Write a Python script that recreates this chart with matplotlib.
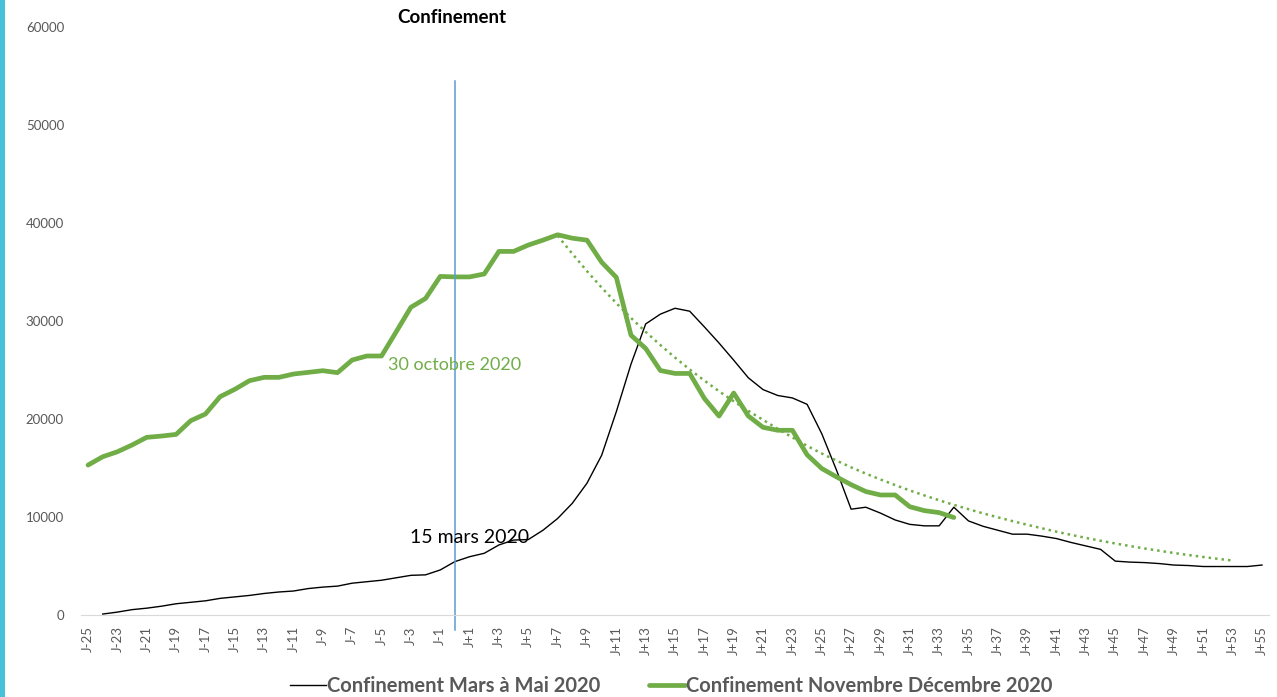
import matplotlib.pyplot as plt
import numpy as np
from matplotlib.patches import Rectangle

plt.rcParams['font.family'] = ['Lato', 'DejaVu Sans']

# jours autour du début du confinement (J-25 ... J+55)
jours = list(range(-25, 56))
etiquettes = ["J%+d" % j if j != 0 else "J" for j in jours]

# confinement mars à mai 2020 (pas de valeur à J-25)
mars_mai = [np.nan, 100, 300, 550, 700, 900, 1150, 1300, 1450, 1700,
            1850, 2000, 2200, 2350, 2450, 2700, 2850, 2950, 3250, 3400,
            3550, 3800, 4050, 4100, 4600, 5450, 5950, 6300, 7150, 7650,
            7700, 8650, 9850, 11400, 13450, 16300, 20750, 25600, 29700, 30700,
            31300, 31000, 29400, 27750, 26000, 24200, 23000, 22400, 22150, 21500,
            18500, 14800, 10800, 11000, 10400, 9700, 9250, 9100, 9100, 11000,
            9600, 9050, 8650, 8250, 8250, 8050, 7800, 7400, 7050, 6700,
            5500, 5400, 5350, 5250, 5100, 5050, 4950, 4950, 4950, 4950,
            5100]

# confinement novembre décembre 2020 (J-25 ... J+34)
nov_dec = [15300, 16150, 16660, 17350, 18130, 18260, 18430, 19830, 20510, 22280,
           23030, 23910, 24250, 24250, 24590, 24760, 24930, 24730, 26020, 26430,
           26430, 28900, 31400, 32300, 34550, 34500, 34500, 34800, 37100, 37100,
           37750, 38250, 38800, 38450, 38250, 36000, 34450, 28550, 27200, 24950,
           24650, 24650, 22100, 20300, 22650, 20300, 19150, 18850, 18850, 16350,
           14950, 14100, 13300, 12600, 12250, 12250, 11050, 10650, 10450, 9950]

# courbe de tendance (pointillés), de J+7 à J+53
tendance = [38700, 36870, 35090, 33410, 31820, 30310, 28890, 27550, 26270, 25060,
            23920, 22830, 21810, 20830, 19910, 19000, 18120, 17260, 16480, 15760,
            15070, 14430, 13830, 13260, 12710, 12200, 11710, 11240, 10800, 10370,
            9970, 9580, 9210, 8850, 8500, 8180, 7870, 7580, 7300, 7040,
            6790, 6560, 6330, 6120, 5920, 5730, 5560]

vert = '#70AD47'
gris = '#595959'

fig = plt.figure(figsize=(12.77, 6.97), dpi=100)
ax = fig.add_axes([0.0632, 0.1176, 0.9308, 0.8437])

x = np.arange(len(jours))
ax.plot(x, mars_mai, color='black', lw=1.0, label='Confinement Mars à Mai 2020')
ax.plot(x[:len(nov_dec)], nov_dec, color=vert, lw=3.4, solid_joinstyle='round',
        solid_capstyle='round', label='Confinement Novembre Décembre 2020')
d = jours.index(7)
ax.plot(x[d:d + len(tendance)], tendance, color=vert, lw=1.8, ls=(0, (1, 1.6)))

# ligne du début du confinement
j0 = jours.index(0)
ax.plot([j0, j0], [-1500, 54500], color='#5B9BD5', lw=1.1, clip_on=False)

ax.text(j0 - 0.2, 60950, 'Confinement', ha='center', va='center', fontsize=13.5,
        fontweight='bold', color='black', clip_on=False)
ax.text(j0, 25500, '30 octobre 2020', ha='center', va='center', fontsize=13, color=vert)
ax.text(j0 + 1, 7950, '15 mars 2020', ha='center', va='center', fontsize=14, color='black')

ax.set_xlim(-0.5, len(jours) - 0.5)
ax.set_ylim(0, 60000)
ax.set_yticks(range(0, 60001, 10000))
ax.set_xticks(x[::2])
ax.set_xticklabels(etiquettes[::2], rotation=90)

for s in ['top', 'right', 'left']:
    ax.spines[s].set_visible(False)
ax.spines['bottom'].set_color('#D9D9D9')
ax.tick_params(axis='y', length=0, pad=12, labelsize=9.5, labelcolor=gris)
ax.tick_params(axis='x', length=0, pad=8, labelsize=9.5, labelcolor=gris)

leg = ax.legend(loc='center', bbox_to_anchor=(0.497, -0.121), ncol=2, frameon=False,
                prop={'weight': 'bold', 'size': 14.5}, handlelength=1.8,
                columnspacing=2.4, handletextpad=0.05)
for t in leg.get_texts():
    t.set_color(gris)

# bande bleue à gauche
fig.add_artist(Rectangle((0, 0), 5 / 1277, 1, transform=fig.transFigure,
                         color='#47C1DA', lw=0))

fig.savefig('out.png', dpi=100)
